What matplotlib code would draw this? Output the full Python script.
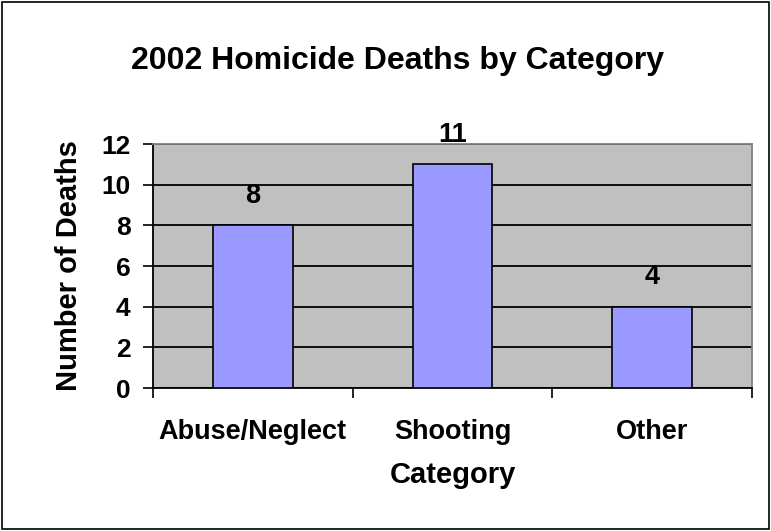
import numpy as np
import matplotlib
matplotlib.use("Agg")
import matplotlib.pyplot as plt
from matplotlib.patches import Rectangle

categories = ["Abuse/Neglect", "Shooting", "Other"]
deaths = [8, 11, 4]
y_ticks = [0, 2, 4, 6, 8, 10, 12]

plt.rcParams['font.family'] = ['Liberation Sans', 'DejaVu Sans']

fig = plt.figure(figsize=(7.71, 5.31), dpi=100)
# outer border of the chart
fig.patches.append(Rectangle((0.002, 0.003), 0.995, 0.994, transform=fig.transFigure,
                             fill=False, edgecolor='black', linewidth=1.2))

ax = fig.add_axes([0.1984, 0.2693, 0.777, 0.4595])
ax.set_facecolor('#C0C0C0')

x = np.arange(len(categories))
bars = ax.bar(x, deaths, width=0.4, color='#9999FF', edgecolor='black', linewidth=1.2, zorder=3)

# value labels above the bars
for xi, v in zip(x, deaths):
    ax.annotate(str(v), (xi, v), xytext=(0, 12), textcoords='offset points',
                ha='center', va='bottom', fontsize=19.5, fontweight='bold')

ax.set_xlim(-0.5, len(categories) - 0.5)
ax.set_ylim(0, 12)
ax.set_yticks(y_ticks)
ax.yaxis.grid(True, color='black', linewidth=1.3, zorder=1)
ax.set_axisbelow(True)

ax.set_xticks(x)
ax.set_xticklabels(categories, fontsize=19.5, fontweight='bold')
ax.tick_params(axis='x', length=0, pad=22)
ax.set_xticks(np.arange(-0.5, len(categories)), minor=True)
ax.tick_params(axis='x', which='minor', length=7, width=1.2, direction='out')
ax.tick_params(axis='y', length=7, width=1.2, direction='out', pad=9, labelsize=19)
for lab in ax.get_yticklabels():
    lab.set_fontweight('bold')

ax.spines['left'].set_linewidth(1.3)
ax.spines['bottom'].set_linewidth(1.3)
ax.spines['top'].set_color('#808080')
ax.spines['right'].set_color('#808080')
ax.spines['top'].set_linewidth(1.3)
ax.spines['right'].set_linewidth(1.3)

ax.set_ylabel("Number of Deaths", fontsize=21, fontweight='bold', labelpad=13)
ax.set_xlabel("Category", fontsize=21, fontweight='bold', labelpad=12)
fig.text(0.515, 0.885, "2002 Homicide Deaths by Category", ha='center', va='center',
         fontsize=23, fontweight='bold')

fig.savefig("out.png", dpi=100)
